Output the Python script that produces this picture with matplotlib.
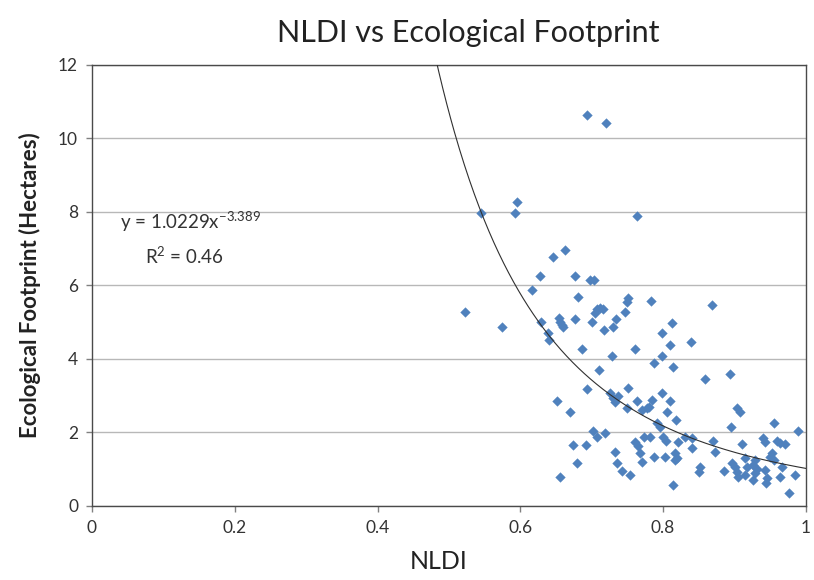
import numpy as np
import matplotlib
matplotlib.use("Agg")
import matplotlib.pyplot as plt

# Data
nldi = [
    0.694, 0.720, 0.595, 0.593, 0.545, 0.763, 0.663, 0.646, 0.628, 0.676,
    0.697, 0.703, 0.617, 0.681, 0.751, 0.749, 0.574, 0.522, 0.783, 0.707,
    0.711, 0.716, 0.704, 0.747, 0.629, 0.654, 0.656, 0.658, 0.660, 0.677,
    0.701, 0.734, 0.730, 0.717, 0.639, 0.640, 0.686, 0.760, 0.728, 0.787,
    0.710, 0.812, 0.798, 0.810, 0.798, 0.814, 0.869, 0.839, 0.894, 0.859,
    0.694, 0.652, 0.669, 0.725, 0.730, 0.732, 0.737, 0.751, 0.763, 0.749,
    0.770, 0.777, 0.780, 0.784, 0.798, 0.810, 0.805, 0.818, 0.791, 0.795,
    0.702, 0.707, 0.718, 0.674, 0.692, 0.679, 0.732, 0.736, 0.743, 0.754,
    0.655, 0.761, 0.765, 0.768, 0.770, 0.773, 0.782, 0.787, 0.800, 0.804,
    0.802, 0.817, 0.819, 0.817, 0.821, 0.814, 0.903, 0.908, 0.895, 0.956,
    0.989, 0.831, 0.841, 0.870, 0.840, 0.873, 0.910, 0.940, 0.943, 0.959,
    0.964, 0.971, 0.953, 0.950, 0.956, 0.852, 0.850, 0.886, 0.896, 0.901,
    0.903, 0.905, 0.915, 0.917, 0.915, 0.929, 0.926, 0.931, 0.929, 0.926,
    0.943, 0.945, 0.944, 0.966, 0.964, 0.985, 0.976,
]
footprint = [
    10.65, 10.43, 8.27, 7.96, 7.98, 7.89, 6.97, 6.77, 6.27, 6.26,
    6.15, 6.15, 5.88, 5.70, 5.65, 5.56, 4.88, 5.28, 5.57, 5.35,
    5.38, 5.37, 5.26, 5.27, 5.01, 5.11, 5.01, 4.93, 4.86, 5.08,
    5.01, 5.09, 4.88, 4.79, 4.70, 4.52, 4.28, 4.28, 4.08, 3.90,
    3.70, 4.99, 4.70, 4.37, 4.08, 3.79, 5.47, 4.47, 3.58, 3.45,
    3.18, 2.87, 2.56, 3.07, 2.93, 2.84, 2.99, 3.20, 2.87, 2.66,
    2.61, 2.66, 2.70, 2.88, 3.08, 2.87, 2.55, 2.34, 2.25, 2.16,
    2.05, 1.89, 1.98, 1.66, 1.66, 1.18, 1.48, 1.16, 0.96, 0.84,
    0.80, 1.75, 1.62, 1.43, 1.21, 1.87, 1.87, 1.34, 1.87, 1.78,
    1.34, 1.43, 1.30, 1.25, 1.75, 0.57, 2.66, 2.57, 2.16, 2.25,
    2.05, 1.89, 1.84, 1.78, 1.57, 1.48, 1.68, 1.84, 1.75, 1.78,
    1.71, 1.69, 1.43, 1.32, 1.25, 1.05, 0.93, 0.96, 1.16, 1.05,
    0.93, 0.80, 1.30, 1.07, 0.84, 1.25, 1.12, 1.02, 0.89, 0.71,
    0.98, 0.75, 0.62, 1.07, 0.80, 0.84, 0.36,
]

# Power trend line shown in the chart
fit_a = 1.0229
fit_b = -3.389
fit_r2 = 0.46

x_ticks = [0, 0.2, 0.4, 0.6, 0.8, 1]
x_tick_labels = ["0", "0.2", "0.4", "0.6", "0.8", "1"]
y_ticks = [0, 2, 4, 6, 8, 10, 12]

font = ["Lato", "DejaVu Sans"]
plt.rcParams["font.family"] = font

fig = plt.figure(figsize=(8.14, 5.80), dpi=100)
ax = fig.add_axes([0.113, 0.1276, 0.877, 0.7604])

ax.set_xlim(0, 1)
ax.set_ylim(0, 12)
ax.set_yticks(y_ticks)
ax.set_xticks(x_ticks)
ax.set_xticklabels(x_tick_labels)
ax.yaxis.grid(True, color="#b8b8b8", linewidth=1.0)
ax.set_axisbelow(True)

for s in ax.spines.values():
    s.set_color("#4a4a4a")
    s.set_linewidth(1.0)

ax.tick_params(axis="both", direction="out", length=4, width=1,
               color="#808080", labelsize=12.5, labelcolor="#333333")
ax.tick_params(axis="x", pad=6)
ax.tick_params(axis="y", pad=6)

ax.scatter(nldi, footprint, marker="D", s=24, color="#4F81BD",
           edgecolors="#4F81BD", linewidths=0.3, zorder=3)

xs = np.linspace(0.45, 1.0, 400)
ys = fit_a * xs ** fit_b
ax.plot(xs, ys, color="#303030", linewidth=0.8, zorder=4)

ax.text(0.039, 7.75, "y = 1.0229x$^{\\mathregular{-3.389}}$", fontsize=13.5,
        color="#333333", ha="left", va="center")
ax.text(0.074, 6.8, "R$^{\\mathregular{2}}$ = 0.46", fontsize=13.5,
        color="#333333", ha="left", va="center")

fig.text(0.575, 0.943, "NLDI vs Ecological Footprint", fontsize=22,
         ha="center", va="center", color="#222222")
ax.set_xlabel("NLDI", fontsize=18, color="#222222", labelpad=4)
ax.xaxis.set_label_coords(0.486, -0.1)
ax.set_ylabel("Ecological Footprint (Hectares)", fontsize=16,
              fontweight="bold", color="#222222", labelpad=12)

fig.savefig("out.png", dpi=100)
